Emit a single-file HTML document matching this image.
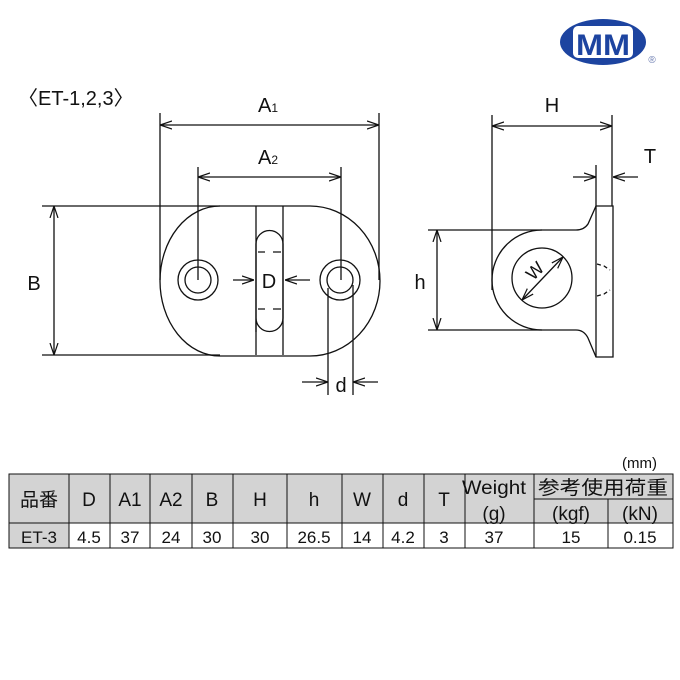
<!DOCTYPE html>
<html><head><meta charset="utf-8"><style>
body{margin:0;background:#fff;width:680px;height:680px;overflow:hidden}
svg{position:absolute;left:0;top:0}
text{font-family:"Liberation Sans","Noto Sans CJK JP",sans-serif;fill:#111}
</style></head><body>
<svg width="680" height="680" viewBox="0 0 680 680">
<defs>
<marker id="a" viewBox="0 0 12 10" refX="12" refY="5" markerWidth="12" markerHeight="10" markerUnits="userSpaceOnUse" orient="auto-start-reverse"><path d="M0,1 L12,5 L0,9" fill="none" stroke="#111" stroke-width="1.2"/></marker>
</defs>
<g fill="none" stroke="#111" stroke-width="1.3">
<path d="M220,206 L310,206 A70,75 0 0 1 310,356 L220,356 A60,75 0 0 1 220,206 Z"/>
<line x1="42" y1="206" x2="220" y2="206"/>
<line x1="42" y1="355" x2="220" y2="355"/>
<circle cx="198" cy="280" r="20"/><circle cx="198" cy="280" r="13"/>
<circle cx="340" cy="280" r="20"/><circle cx="340" cy="280" r="13"/>
<line x1="256" y1="206" x2="256" y2="355"/><line x1="283" y1="206" x2="283" y2="355"/>
<path d="M256,332 L256,244 A13.5,13.5 0 0 1 283,244 L283,318 A13.5,13.5 0 0 1 256,318"/>
<path d="M258,252 h7 M273,252 h8 M258,309 h7 M273,309 h8"/>
<line x1="160" y1="113" x2="160" y2="280"/><line x1="379" y1="113" x2="379" y2="280"/>
<line x1="160" y1="125" x2="379" y2="125" marker-start="url(#a)" marker-end="url(#a)"/>
<line x1="198" y1="167" x2="198" y2="280"/><line x1="341" y1="167" x2="341" y2="280"/>
<line x1="198" y1="177" x2="341" y2="177" marker-start="url(#a)" marker-end="url(#a)"/>
<line x1="54" y1="206" x2="54" y2="355" marker-start="url(#a)" marker-end="url(#a)"/>
<line x1="233" y1="280" x2="254" y2="280" marker-end="url(#a)"/>
<line x1="310" y1="280" x2="285" y2="280" marker-end="url(#a)"/>
<line x1="328" y1="288" x2="328" y2="395"/><line x1="353" y1="285" x2="353" y2="395"/>
<line x1="302" y1="382" x2="328" y2="382" marker-end="url(#a)"/>
<line x1="378" y1="382" x2="353" y2="382" marker-end="url(#a)"/>
<path d="M428,230 L576,230 Q584,230 588,224 L596,206 L613,206 L613,357 L596,357 L588,338 Q584,330 576,330 L428,330"/>
<line x1="596" y1="206" x2="596" y2="357"/>
<path d="M542,230 A50,50 0 0 0 542,330" />
<path d="M492,115 L492,290"/>
<circle cx="542" cy="278" r="30"/>
<line x1="522" y1="300" x2="563" y2="257" marker-start="url(#a)" marker-end="url(#a)"/>
<path d="M597,264 l7,2 l6,4 M597,296 l7,-2 l6,-4" stroke-dasharray="4,3"/>
<line x1="612" y1="115" x2="612" y2="206"/><line x1="596" y1="165" x2="596" y2="206"/>
<line x1="492" y1="126" x2="612" y2="126" marker-start="url(#a)" marker-end="url(#a)"/>
<line x1="573" y1="177" x2="596" y2="177" marker-end="url(#a)"/>
<line x1="638" y1="177" x2="613" y2="177" marker-end="url(#a)"/>
<line x1="437" y1="230" x2="437" y2="330" marker-start="url(#a)" marker-end="url(#a)"/>
</g>
<text x="18" y="105" font-size="20">〈ET-1,2,3〉</text>
<text x="258" y="112" font-size="20">A<tspan font-size="12">1</tspan></text>
<text x="258" y="164" font-size="20">A<tspan font-size="12">2</tspan></text>
<text x="34" y="290" font-size="20" text-anchor="middle">B</text>
<text x="269" y="288" font-size="20" text-anchor="middle">D</text>
<text x="341" y="392" font-size="20" text-anchor="middle">d</text>
<text x="552" y="112" font-size="20" text-anchor="middle">H</text>
<text x="650" y="163" font-size="20" text-anchor="middle">T</text>
<text x="420" y="289" font-size="20" text-anchor="middle">h</text>
<text x="535" y="277" font-size="18" text-anchor="middle" transform="rotate(-45 535 271)">W</text>
<ellipse cx="603" cy="42" rx="43" ry="23" fill="#1d44a0"/>
<rect x="573" y="26" width="60" height="32" fill="#fff" rx="5"/>
<text x="603" y="55" font-size="30" font-weight="bold" text-anchor="middle" style="fill:#1d44a0" textLength="54" lengthAdjust="spacingAndGlyphs">MM</text>
<text x="652" y="63" font-size="10" text-anchor="middle" style="fill:#6a7bb0">®</text>
<text x="622" y="468" font-size="15">(mm)</text>
<g stroke="#111" stroke-width="1">
<rect x="9" y="474" width="664" height="49" fill="#d3d3d3"/>
<rect x="9" y="523" width="60" height="25" fill="#d3d3d3"/>
<rect x="69" y="523" width="604" height="25" fill="#fff"/>
<path d="M69,474V548 M110,474V548 M150,474V548 M192,474V548 M233,474V548 M287,474V548 M342,474V548 M383,474V548 M424,474V548 M465,474V548 M534,474V548 M608,499V548 M534,499H673" fill="none"/>
</g>
<g font-size="19" text-anchor="middle">
<text x="39" y="506">品番</text><text x="89" y="506">D</text><text x="130" y="506">A1</text><text x="171" y="506">A2</text><text x="212" y="506">B</text><text x="260" y="506">H</text><text x="314" y="506">h</text><text x="362" y="506">W</text><text x="403" y="506">d</text><text x="444" y="506">T</text>
<text x="494" y="494" textLength="64" lengthAdjust="spacingAndGlyphs">Weight</text><text x="494" y="520">(g)</text>
<text x="603" y="494" textLength="130" lengthAdjust="spacingAndGlyphs">参考使用荷重</text><text x="571" y="520">(kgf)</text><text x="640" y="520">(kN)</text>
<g font-size="17"><text x="39" y="543">ET-3</text><text x="89" y="543">4.5</text><text x="130" y="543">37</text><text x="171" y="543">24</text><text x="212" y="543">30</text><text x="260" y="543">30</text><text x="314" y="543">26.5</text><text x="362" y="543">14</text><text x="403" y="543">4.2</text><text x="444" y="543">3</text><text x="494" y="543">37</text><text x="571" y="543">15</text><text x="640" y="543">0.15</text></g>
</g>
</svg>
</body></html>
